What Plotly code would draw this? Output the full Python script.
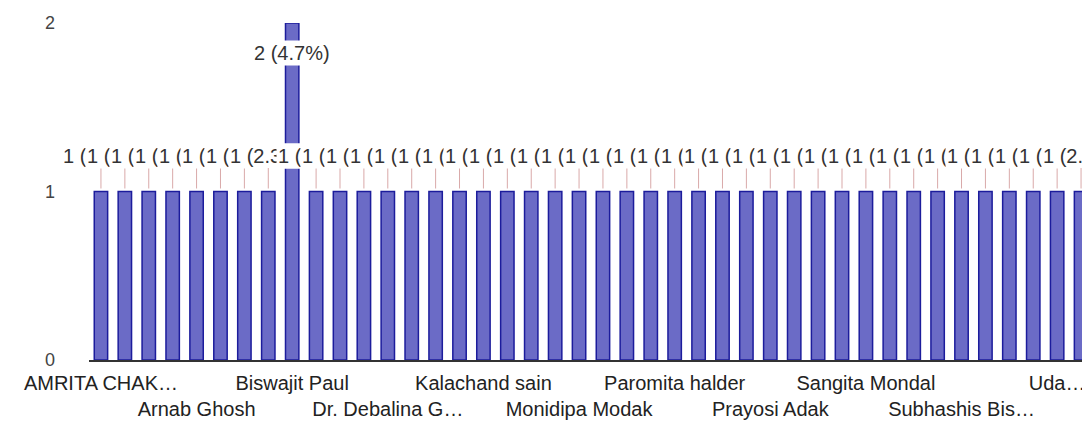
import plotly.graph_objects as go

# Responses per person (42 people, alphabetical order)
counts = [1, 1, 1, 1, 1, 1, 1, 1, 2, 1,
          1, 1, 1, 1, 1, 1, 1, 1, 1, 1,
          1, 1, 1, 1, 1, 1, 1, 1, 1, 1,
          1, 1, 1, 1, 1, 1, 1, 1, 1, 1,
          1, 1]
positions = list(range(len(counts)))

# Visible axis labels (every 4th category)
tick_positions = [0, 4, 8, 12, 16, 20, 24, 28, 32, 36, 40]
tick_labels = ["AMRITA CHAK…", "Arnab Ghosh", "Biswajit Paul", "Dr. Debalina G…",
               "Kalachand sain", "Monidipa Modak", "Paromita halder", "Prayosi Adak",
               "Sangita Mondal", "Subhashis Bis…", "Uda…"]

total = sum(counts)
bar_text = [f"{v} ({v / total * 100:.1f}%)" for v in counts]

FONT = "Arial, Liberation Sans, sans-serif"

fig = go.Figure()
fig.add_trace(go.Bar(
    x=positions, y=counts,
    marker=dict(color="#6b6bc6", line=dict(color="#1c1c9c", width=1.5)),
    width=0.56,
    hoverinfo="skip",
))

# staggered tick text (second row via leading line break)
ticktext = [t if i % 2 == 0 else "<br>" + t for i, t in enumerate(tick_labels)]

annotations = []
ymax = max(counts)
for xi, v, txt in zip(positions, counts, bar_text):
    if v == ymax:
        annotations.append(dict(
            x=xi, y=v, xref="x", yref="y", text=txt, showarrow=False,
            yshift=-30, bgcolor="white", borderpad=1,
            font=dict(family=FONT, size=20, color="#333333")))
    else:
        annotations.append(dict(
            x=xi, y=v, xref="x", yref="y", text=txt, showarrow=True,
            ax=0, ay=-36, arrowhead=0, arrowwidth=1, arrowcolor="#d9a9a9",
            standoff=3, bgcolor="white", borderpad=1,
            font=dict(family=FONT, size=20, color="#333333")))

fig.update_layout(
    width=1090, height=432,
    margin=dict(l=81, r=5, t=10, b=80),
    paper_bgcolor="white", plot_bgcolor="white",
    showlegend=False,
    bargap=0.42,
    font=dict(family=FONT, size=20, color="#222222"),
    annotations=annotations,
    xaxis=dict(
        range=[-0.5, len(counts) - 0.5],
        tickmode="array", tickvals=tick_positions, ticktext=ticktext,
        tickangle=0, showgrid=False, zeroline=False,
        showline=True, linecolor="#333333", linewidth=1.5,
        ticks="", ticklabelstandoff=4,
        tickfont=dict(family=FONT, size=20, color="#222222"),
    ),
    yaxis=dict(
        range=[0, 2], tickvals=[0, 1, 2], ticktext=["0", "1", "2"],
        showgrid=False, zeroline=False, showline=False,
        ticks="", ticklabelstandoff=33, ticklabeloverflow="allow",
        tickfont=dict(family=FONT, size=18, color="#444444"),
    ),
)

fig.write_html("out.html")
